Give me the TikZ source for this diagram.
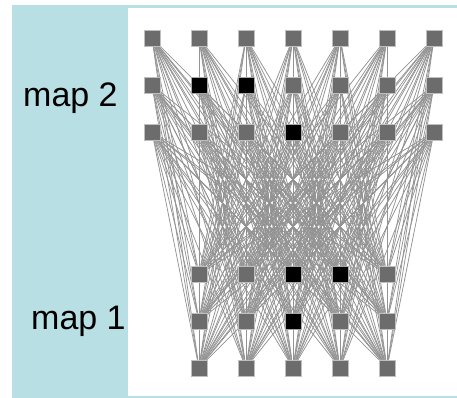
\documentclass[tikz,border=0pt]{standalone}
\usepackage{fontspec}
\setmainfont{Liberation Sans}
\usetikzlibrary{backgrounds}
\definecolor{panel}{RGB}{184,223,227}
\definecolor{unitgray}{RGB}{108,108,108}
\tikzstyle{unit} = [rectangle, minimum size=16pt, inner sep=0pt, fill=unitgray, draw=gray!50, line width=0.7pt]
\tikzstyle{active} = [fill=black, draw=gray!70]
\tikzstyle{link} = [gray!85, line width=0.75pt]
\tikzstyle{maplabel} = [anchor=base west, inner sep=0pt, font=\fontsize{34}{40}\selectfont]
\tikzset{hot-m2-2-2/.style=active, hot-m2-2-3/.style=active, hot-m2-3-4/.style=active,
         hot-m1-1-3/.style=active, hot-m1-1-4/.style=active, hot-m1-2-3/.style=active}

\begin{document}
\begin{tikzpicture}[x=1pt, y=-1pt]
    \useasboundingbox (0,0) rectangle (457,398);
    % Labels
    \node (label2) [maplabel] at (23,107) {map 2};
    \node (label1) [maplabel] at (31,329) {map 1};

    % Nodes: map 2 (7x3) and map 1 (5x3)
    \foreach \r/\y in {1/38, 2/85, 3/132}
        \foreach \c in {1,...,7}
            \node (m2-\r-\c) [unit, hot-m2-\r-\c/.try] at ({152+47*(\c-1)},\y) {};
    \foreach \r/\y in {1/274, 2/321, 3/368}
        \foreach \c in {1,...,5}
            \node (m1-\r-\c) [unit, hot-m1-\r-\c/.try] at ({199+47*(\c-1)},\y) {};

    \begin{pgfonlayer}{background}
        % Panel
        \fill [panel] (12,5) rectangle (457,398);
        \fill [white] (128,8) rectangle (457,396);
        % Connections
        \foreach \a in {1,2,3}
            \foreach \b in {1,...,7}
                \foreach \c in {1,2,3}
                    \foreach \d in {1,...,5}
                        \draw [link] (m2-\a-\b) -- (m1-\c-\d);
    \end{pgfonlayer}
\end{tikzpicture}
\end{document}
